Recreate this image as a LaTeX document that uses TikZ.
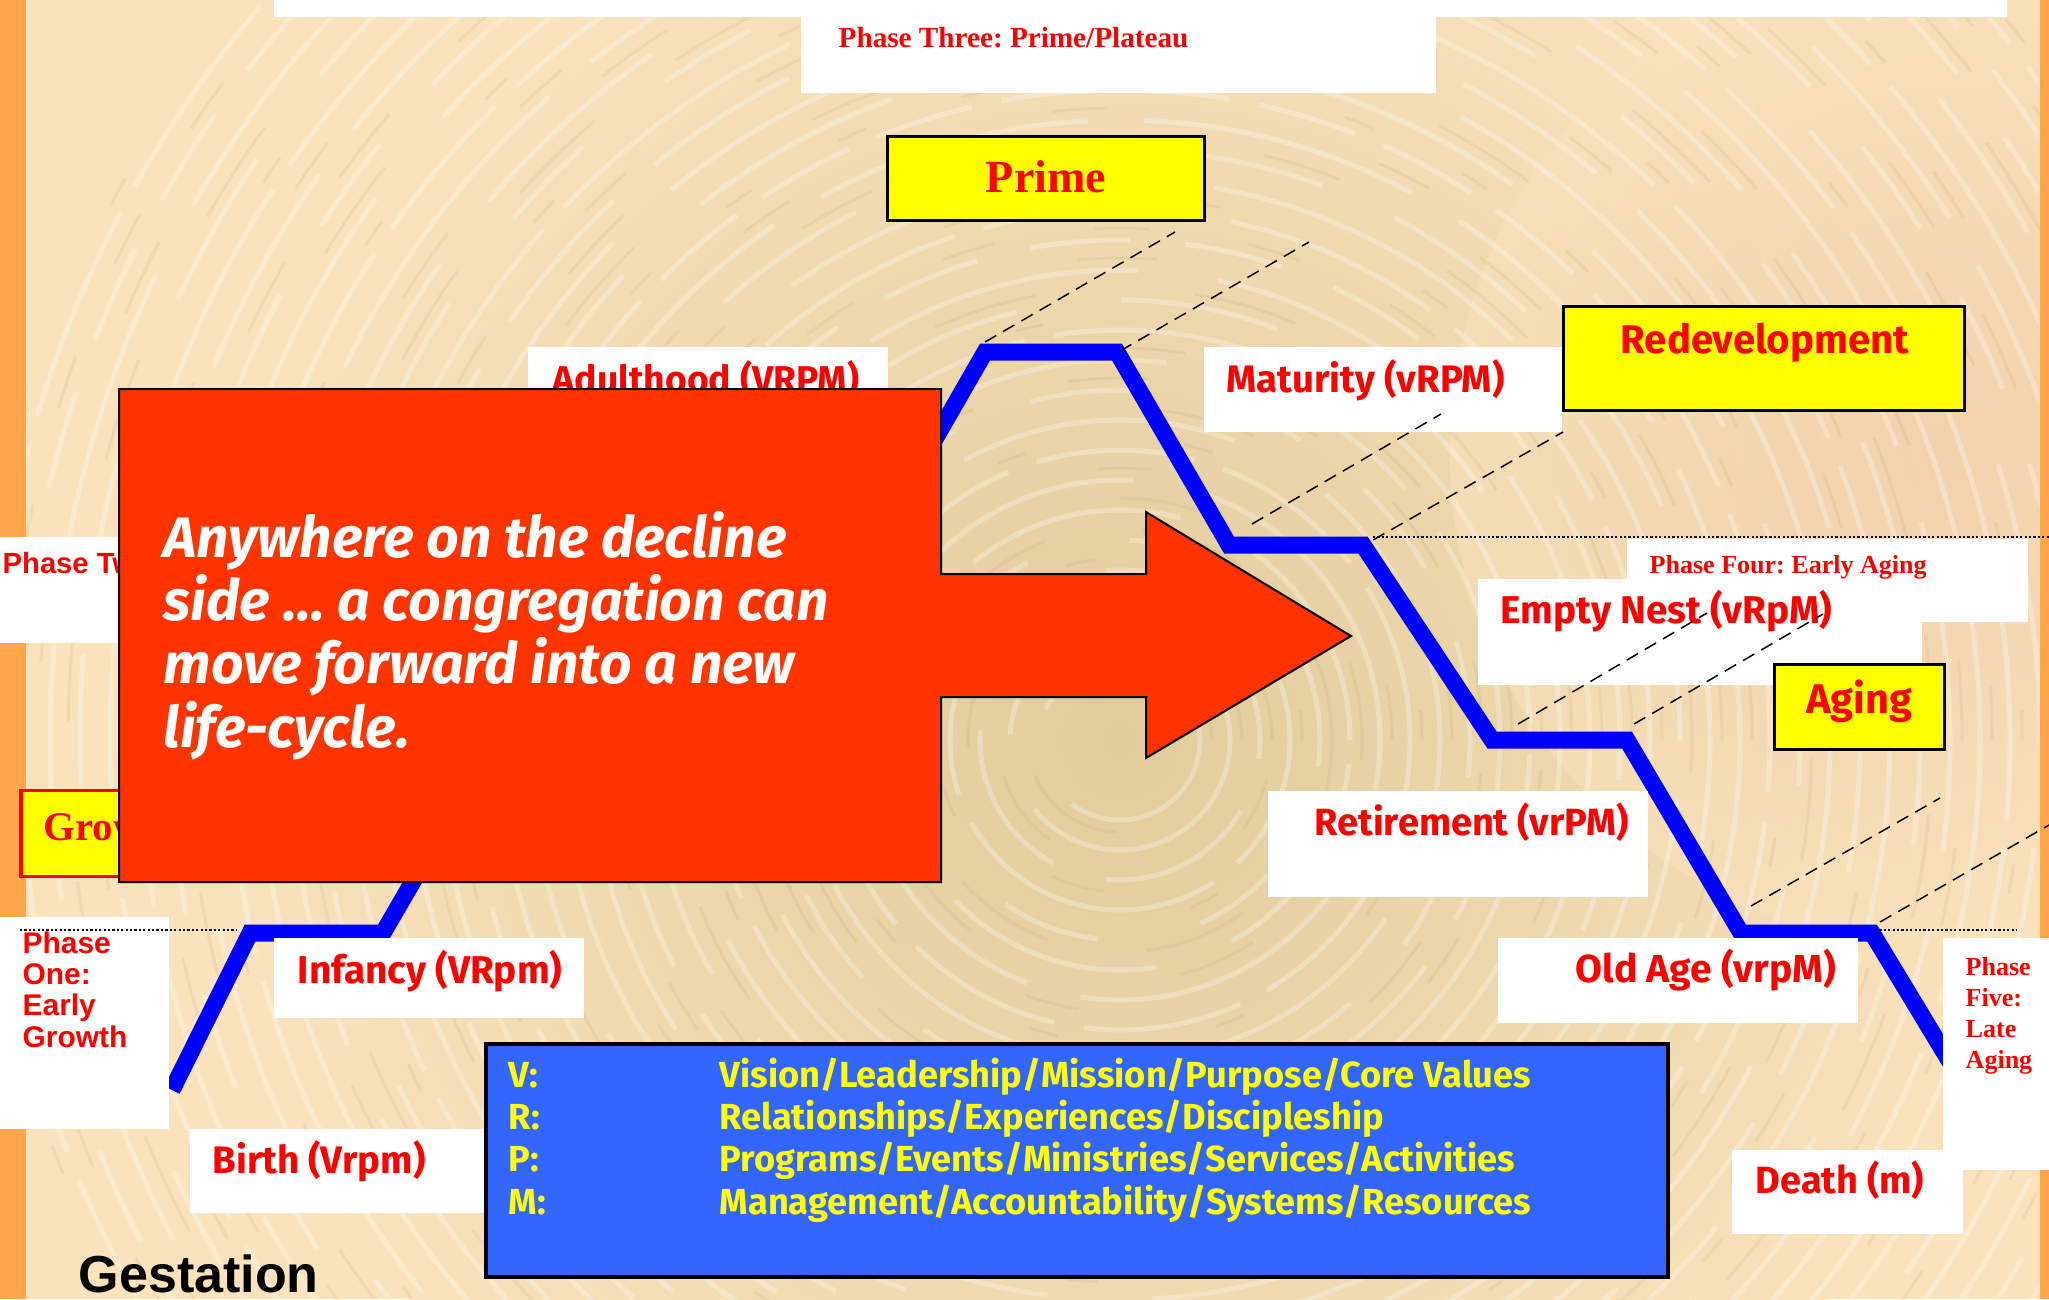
\documentclass[tikz,border=0pt]{standalone}
\usepackage{fontspec}
\setmainfont{Liberation Serif}
\newfontfamily\arialf{Liberation Sans}
\newfontfamily\comicf{Fira Sans}
\usetikzlibrary{fit,calc}
\definecolor{bgpeach}{RGB}{249,226,188}
\definecolor{bgtan}{RGB}{226,204,156}
\definecolor{bgpink}{RGB}{238,200,165}
\definecolor{ringbrown}{RGB}{175,145,100}
\definecolor{stripor}{RGB}{255,166,77}
\definecolor{calloutred}{RGB}{255,51,0}
\definecolor{vrpmblue}{RGB}{51,102,255}
\definecolor{lblred}{RGB}{255,0,0}
\definecolor{yel}{RGB}{255,255,0}
\frenchspacing
\begin{document}
\begin{tikzpicture}[x=0.01cm, y=-0.01cm,
  whitebox/.style={fill=white, draw=none, inner sep=0pt, outer sep=0pt},
  yelbox/.style={fill=yel, draw=black, line width=0.03cm, inner sep=0pt},
  comic/.style={text=lblred, inner sep=0pt, font=\comicf\bfseries\fontsize{#1}{#1}\selectfont},
  comicy/.style={text=yel, inner sep=0pt, font=\comicf\bfseries\fontsize{#1}{#1}\selectfont},
  comicw/.style={text=white, inner sep=0pt, font=\comicf\bfseries\itshape\fontsize{#1}{#1}\selectfont},
  serifb/.style={text=lblred, inner sep=0pt, font=\bfseries\fontsize{#1}{#1}\selectfont},
  arialb/.style={text=lblred, inner sep=0pt, font=\arialf\bfseries\fontsize{#1}{#1}\selectfont},
  lifeline/.style={draw=blue, line width=0.17cm, line join=miter},
  guide/.style={draw=black, line width=0.015cm, dash pattern=on 0.13cm off 0.08cm},
  levelline/.style={draw=black, line width=0.022cm, dash pattern=on 0.022cm off 0.022cm},
]
\useasboundingbox (0,0) rectangle (2049,1299);
% background
\begin{scope}
\clip (0,0) rectangle (2049,1299);
\fill[bgpeach] (0,0) rectangle (2049,1299);
\shade[inner color=bgtan, outer color=bgpeach] (1120,740) circle[radius=9cm];
\shade[inner color=bgpink, outer color=bgpeach, opacity=0.6] (1950,450) circle[radius=5cm];
\foreach \i in {1,...,36} {
  \pgfmathsetmacro\rr{50+\i*30}
  \pgfmathsetmacro\on{1+mod(\i*7,5)*0.6}
  \pgfmathsetmacro\off{0.3+mod(\i*3,4)*0.25}
  \draw[white, opacity=0.28, line width=0.05cm, dash pattern=on \on cm off \off cm] (1120,740) circle[radius=\rr*0.01cm];
  \pgfmathsetmacro\rb{62+\i*30}
  \draw[ringbrown, opacity=0.12, line width=0.03cm, dash pattern=on \off cm off \on cm] (1120,740) circle[radius=\rb*0.01cm];
}
\fill[stripor] (0,0) rectangle (26,1299);
\fill[stripor] (2040,0) rectangle (2049,1299);
\end{scope}

% life-cycle line
\draw[lifeline] (172,1090) -- (250,933) -- (383,933) -- (560,628) -- (760,628) -- (897,505) -- (985,352) -- (1117,352) -- (1229,545) -- (1363,545) -- (1492,740) -- (1627,740) -- (1741,933) -- (1872,933) -- (1950,1062);

% top boxes
\node[whitebox, fit={(274,0)(2007,17)}] (topbar) {};
\node[whitebox, fit={(801,0)(1436,93)}] (p3box) {};
\node[serifb=8.3, anchor=base west] (p3) at (838,47) {Phase Three: Prime/Plateau};

\node[yelbox, fit={(887,136)(1204,220)}] (primebox) {};
\node[serifb=13.1, anchor=base] (prime) at (1046,192) {Prime};

\node[yelbox, fit={(1563,306)(1964,410)}] (redevbox) {};
\node[comic=11.4, anchor=base west] (redev) at (1620,353) {Redevelopment};

\node[whitebox, fit={(1204,347)(1562,432)}] (matbox) {};
\node[comic=10.9, anchor=base west] (mat) at (1226,392) {Maturity (vRPM)};

\node[whitebox, fit={(528,347)(888,400)}] (adultbox) {};
\node[comic=10.6, anchor=base west] (adult) at (552,392) {Adulthood (VRPM)};

\node[whitebox, fit={(1627,539)(2028,622)}] (p4box) {};
\node[serifb=7.4, anchor=base west] (p4) at (1649,573) {Phase Four: Early Aging};
\node[whitebox, fit={(1478,579)(1922,685)}] (nestbox) {};
\node[comic=11, anchor=base west] (nest) at (1500,623) {Empty Nest (vRpM)};

\node[yelbox, fit={(1774,664)(1944,749)}] (agingbox) {};
\node[comic=11.8, anchor=base] (aging) at (1859,713) {Aging};

\node[whitebox, fit={(1268,791)(1648,897)}] (retbox) {};
\node[comic=10.8, anchor=base west] (ret) at (1314,835) {Retirement (vrPM)};

\node[whitebox, fit={(1498,938)(1858,1023)}] (oldbox) {};
\node[comic=11.1, anchor=base west] (old) at (1575,982) {Old Age (vrpM)};

\node[whitebox, fit={(1943,938)(2049,1170)}] (p5box) {};
\node[serifb=7.4, anchor=base west] (p5a) at (1965,975) {Phase};
\node[serifb=7.4, anchor=base west] (p5b) at (1965,1006) {Five:};
\node[serifb=7.4, anchor=base west] (p5c) at (1965,1037) {Late};
\node[serifb=7.4, anchor=base west] (p5d) at (1965,1068) {Aging};

\node[whitebox, fit={(1732,1150)(1963,1234)}] (deathbox) {};
\node[comic=10.8, anchor=base west] (death) at (1755,1193) {Death (m)};

\node[whitebox, fit={(274,938)(584,1018)}] (infbox) {};
\node[comic=11, anchor=base west] (inf) at (297,983) {Infancy (VRpm)};

\node[whitebox, fit={(190,1129)(486,1213)}] (birthbox) {};
\node[comic=10.9, anchor=base west] (birth) at (212,1173) {Birth (Vrpm)};

\node[whitebox, fit={(0,917)(169,1129)}] (p1box) {};
\node[arialb=8.5, anchor=base west] (p1a) at (22,953) {Phase};
\node[arialb=8.5, anchor=base west] (p1b) at (22,984) {One:};
\node[arialb=8.5, anchor=base west] (p1c) at (22,1015) {Early};
\node[arialb=8.5, anchor=base west] (p1d) at (22,1047) {Growth};

\node[whitebox, fit={(0,537)(130,643)}] (p2box) {};
\node[arialb=8.3, anchor=base west] (p2) at (2,573) {Phase Two:};

\node[fill=yel, draw=lblred, line width=0.03cm, inner sep=0pt, fit={(21,790)(140,876)}] (growbox) {};
\node[serifb=11.6, anchor=base west] (grow) at (43,840) {Growth};

\node[inner sep=0pt, anchor=base west, font=\arialf\bfseries\fontsize{14.8}{14.8}\selectfont] (gest) at (78,1292) {Gestation};

% guides
\draw[guide] (985,342) -- (1175,232);
\draw[guide] (1120,351) -- (1309,242);
\draw[guide] (1252,524) -- (1441,414);
\draw[guide] (1373,540) -- (1563,432);
\draw[guide] (1518,724) -- (1707,613);
\draw[guide] (1634,724) -- (1823,614);
\draw[guide] (1751,906) -- (1940,798);
\draw[guide] (1880,922) -- (2049,825);
\draw[levelline] (20,930) -- (237,930);
\draw[levelline] (1373,537) -- (2049,537);
\draw[levelline] (1875,930) -- (2017,930);

% callout
\draw[fill=calloutred, draw=black, line width=0.02cm] (119,389) -- (941,389) -- (941,574) -- (1146,574) -- (1146,512) -- (1351,636) -- (1146,758) -- (1146,697) -- (941,697) -- (941,882) -- (119,882) -- cycle;
\node[comicw=16.2, anchor=base west] (c1) at (163,557) {Anywhere on the decline};
\node[comicw=16.2, anchor=base west] (c2) at (163,620) {side … a congregation can};
\node[comicw=16.2, anchor=base west] (c3) at (163,683) {move forward into a new};
\node[comicw=16.2, anchor=base west] (c4) at (163,747) {life-cycle.};

% VRPM legend
\node[fit={(486,1044)(1668,1277)}, fill=vrpmblue, draw=black, line width=0.035cm, inner sep=0pt] (vrpmbox) {};
\node[comicy=10.3, anchor=base west] (kv) at (508,1087) {V:};
\node[comicy=10.3, anchor=base west] (kr) at (508,1129) {R:};
\node[comicy=10.3, anchor=base west] (kp) at (508,1171) {P:};
\node[comicy=10.3, anchor=base west] (km) at (508,1214) {M:};
\node[comicy=10.3, anchor=base west] (dv) at (719,1087) {Vision/Leadership/Mission/Purpose/Core Values};
\node[comicy=10.3, anchor=base west] (dr) at (719,1129) {Relationships/Experiences/Discipleship};
\node[comicy=10.3, anchor=base west] (dp) at (719,1171) {Programs/Events/Ministries/Services/Activities};
\node[comicy=10.3, anchor=base west] (dm) at (719,1214) {Management/Accountability/Systems/Resources};
\end{tikzpicture}
\end{document}
